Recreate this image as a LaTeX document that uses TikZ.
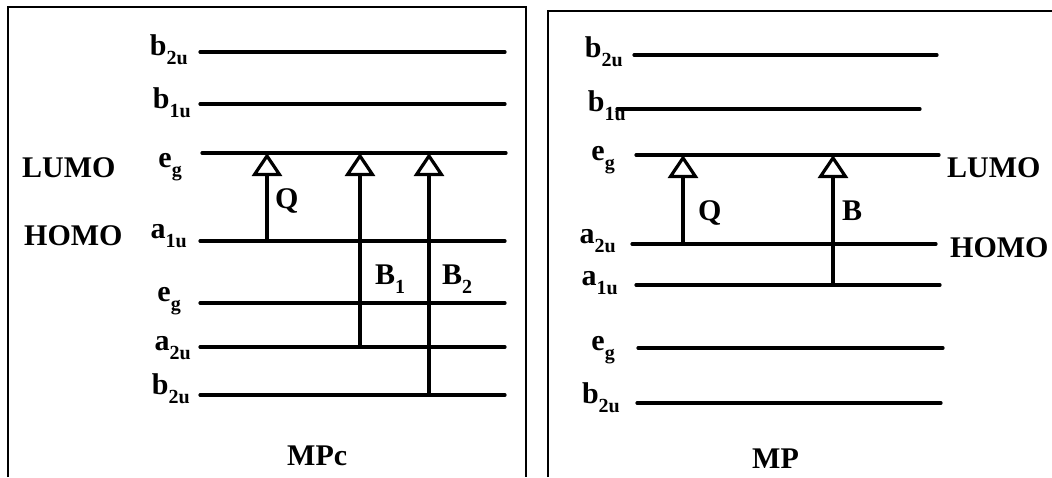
\documentclass[tikz,border=0pt]{standalone}
\usepackage{fontspec}
\setmainfont{Liberation Serif}
\usetikzlibrary{arrows.meta}
\newcommand\lvl[2]{#1\raisebox{-0.3em}{\fontsize{20}{20}\selectfont #2}}
\begin{document}
\begin{tikzpicture}[x=1pt,y=-1pt,
  lev/.style={line width=3.2pt,line cap=round},
  frame/.style={line width=1.5pt},
  lbl/.style={font=\fontsize{30}{30}\selectfont\bfseries,inner sep=0pt,anchor=base east},
  txt/.style={font=\fontsize{30}{30}\selectfont\bfseries,inner sep=0pt,anchor=base west},
  trans/.style={line width=3.2pt,-{Triangle[open,width=30pt,length=23pt]}}]
\useasboundingbox (0,0) rectangle (1052,477);
% frames
\draw[frame] (8,477) -- (8,7) -- (526,7) -- (526,477);
\draw[frame] (548,477) -- (548,11) -- (1052,11);
% ---------- left panel (MPc) ----------
\draw[lev] (200,52) -- (505,52);
\draw[lev] (200,104) -- (505,104);
\draw[lev] (202,153) -- (506,153);
\draw[lev] (200,241) -- (505,241);
\draw[lev] (200,303) -- (505,303);
\draw[lev] (200,347) -- (505,347);
\draw[lev] (200,395) -- (505,395);
\node[lbl] (l1) at (188,55) {\lvl{b}{2u}};
\node[lbl] (l2) at (191,108) {\lvl{b}{1u}};
\node[lbl] (l3) at (182,167) {\lvl{e}{g}};
\node[lbl] (l4) at (187,238) {\lvl{a}{1u}};
\node[lbl] (l5) at (181,301) {\lvl{e}{g}};
\node[lbl] (l6) at (191,350) {\lvl{a}{2u}};
\node[lbl] (l7) at (190,394) {\lvl{b}{2u}};
\node[txt] (lumoL) at (22,177) {LUMO};
\node[txt] (homoL) at (24,245) {HOMO};
\coordinate (qa) at (267,241); \coordinate (qb) at (267,153);
\coordinate (b1a) at (360,347); \coordinate (b1b) at (360,153);
\coordinate (b2a) at (429,395); \coordinate (b2b) at (429,153);
\draw[trans] (qa) -- (qb);
\draw[trans] (b1a) -- (b1b);
\draw[trans] (b2a) -- (b2b);
\node[txt] (qL) at (275,208) {Q};
\node[txt] (b1L) at (375,284) {B\raisebox{-0.3em}{\fontsize{20}{20}\selectfont 1}};
\node[txt] (b2L) at (442,284) {B\raisebox{-0.3em}{\fontsize{20}{20}\selectfont 2}};
\node[txt] (mpc) at (287,465) {MPc};
% ---------- right panel (MP) ----------
\draw[lev] (634,55) -- (937,55);
\draw[lev] (617,109) -- (920,109);
\draw[lev] (636,155) -- (939,155);
\draw[lev] (632,244) -- (936,244);
\draw[lev] (636,285) -- (940,285);
\draw[lev] (638,348) -- (943,348);
\draw[lev] (637,403) -- (941,403);
\node[lbl] (r1) at (623,57) {\lvl{b}{2u}};
\node[lbl] (r2) at (626,111) {\lvl{b}{1u}};
\node[lbl] (r3) at (615,160) {\lvl{e}{g}};
\node[lbl] (r4) at (616,243) {\lvl{a}{2u}};
\node[lbl] (r5) at (618,285) {\lvl{a}{1u}};
\node[lbl] (r6) at (615,350) {\lvl{e}{g}};
\node[lbl] (r7) at (620,403) {\lvl{b}{2u}};
\node[txt] (lumoR) at (947,177) {LUMO};
\node[txt] (homoR) at (950,257) {HOMO};
\coordinate (rqa) at (683,244); \coordinate (rqb) at (683,155);
\coordinate (rba) at (833,285); \coordinate (rbb) at (833,155);
\draw[trans] (rqa) -- (rqb);
\draw[trans] (rba) -- (rbb);
\node[txt] (qR) at (698,220) {Q};
\node[txt] (bR) at (842,220) {B};
\node[txt] (mp) at (752,468) {MP};
\end{tikzpicture}
\end{document}
